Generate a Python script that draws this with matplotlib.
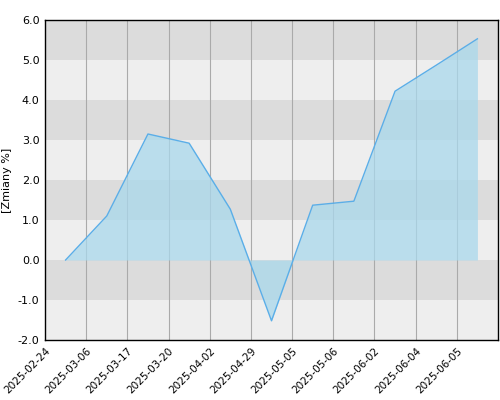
import matplotlib
matplotlib.use("Agg")
import matplotlib.pyplot as plt
import numpy as np

labels = ["2025-02-24","2025-03-06","2025-03-17","2025-03-20","2025-04-02","2025-04-29",
          "2025-05-05","2025-05-06","2025-06-02","2025-06-04","2025-06-05"]
values = [0.0, 1.1, 3.15, 2.92, 1.27, -1.52, 1.37, 1.47, 4.22, 4.87, 5.53]

fig = plt.figure(figsize=(5, 4), dpi=100)
ax = fig.add_axes([0.09, 0.15, 0.906, 0.80])
ax.set_xlim(0, 11)
ax.set_ylim(-2, 6)
for k in range(-2, 6):
    ax.axhspan(k, k + 1, color="#dcdcdc" if k % 2 == 1 else "#eeeeee", zorder=0, lw=0)
for i in range(1, 11):
    ax.axvline(i, color="#aaaaaa", lw=0.8, zorder=1)
x = np.arange(len(values)) + 0.5
ax.fill_between(x, values, 0, color="#a9d8ec", alpha=0.75, zorder=2, lw=0)
ax.plot(x, values, color="#5aaee8", lw=1, zorder=3)
ax.set_xticks(range(11))
ax.set_xticklabels(labels, rotation=45, ha="right", rotation_mode="anchor", fontsize=7.5)
ax.set_yticks(range(-2, 7))
ax.set_yticklabels([f"{v:.1f}" for v in range(-2, 7)], fontsize=8)
ax.tick_params(length=0, pad=4)
ax.set_ylabel("[Zmiany %]", fontsize=8)
for s in ax.spines.values():
    s.set_color("black"); s.set_linewidth(1)
fig.savefig("out.png", dpi=100)
